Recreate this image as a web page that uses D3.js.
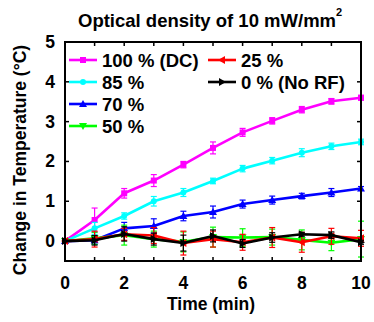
<!DOCTYPE html>
<html>
<head>
<meta charset="utf-8">
<script src="https://cdn.jsdelivr.net/npm/d3@7"></script>
<style>
  body { margin: 0; background: #fff; }
  text { font-family: "Liberation Sans", Arial, sans-serif; font-weight: bold; }
</style>
</head>
<body>
<script>
// time points (min)
var times = [0, 1, 2, 3, 4, 5, 6, 7, 8, 9, 10];

// mean temperature change for each duty cycle
var dc100 = [0, 0.53, 1.2, 1.52, 1.92, 2.34, 2.73, 3.02, 3.3, 3.51, 3.6];
var dc85  = [0, 0.32, 0.63, 1.0, 1.22, 1.51, 1.82, 2.02, 2.22, 2.38, 2.49];
var dc70  = [0, 0.02, 0.32, 0.38, 0.63, 0.73, 0.93, 1.03, 1.13, 1.22, 1.32];
var dc50  = [0, 0.07, 0.15, 0.05, -0.02, 0.1, 0.09, 0.1, 0.03, -0.04, 0.05];
var dc25  = [0, 0.05, 0.17, 0.14, -0.05, 0.05, -0.03, 0.09, -0.03, 0.12, 0.07];
var dc0   = [0, 0.02, 0.18, 0.05, -0.05, 0.13, -0.06, 0.09, 0.17, 0.15, -0.03];

// error bar half-widths
var err100 = [0, 0.3, 0.12, 0.15, 0.08, 0.15, 0.1, 0.08, 0.08, 0.07, 0.06];
var err85  = [0, 0.15, 0.08, 0.12, 0.1, 0.07, 0.08, 0.08, 0.1, 0.08, 0.07];
var err70  = [0, 0.1, 0.15, 0.18, 0.12, 0.15, 0.1, 0.1, 0.07, 0.1, 0.05];
var err50  = [0, 0.15, 0.25, 0.2, 0.25, 0.25, 0.22, 0.2, 0.25, 0.2, 0.45];
var err25  = [0, 0.2, 0.15, 0.2, 0.3, 0.2, 0.2, 0.25, 0.25, 0.2, 0.2];
var err0   = [0, 0.12, 0.18, 0.15, 0.2, 0.15, 0.1, 0.12, 0.05, 0.08, 0.05];

var seriesNames = ["100 % (DC)", "85 %", "70 %", "50 %", "25 %", "0 % (No RF)"];
var seriesColors = ["#ff00ff", "#00ffff", "#0000ff", "#00ff00", "#ff0000", "#000000"];
var seriesMarkers = ["square", "circle", "up", "down", "left", "right"];
var seriesValues = [dc100, dc85, dc70, dc50, dc25, dc0];
var seriesErrors = [err100, err85, err70, err50, err25, err0];

var xTicks = [0, 2, 4, 6, 8, 10];
var yTicks = [0, 1, 2, 3, 4, 5];

var width = 374, height = 322;
var margin = {left: 65, right: 13, top: 42, bottom: 61};

var svg = d3.select("body").append("svg")
    .attr("width", width)
    .attr("height", height);

var x = d3.scaleLinear().domain([0, 10]).range([margin.left, width - margin.right]);
var y = d3.scaleLinear().domain([-0.5, 5]).range([height - margin.bottom, margin.top]);

svg.append("defs").append("clipPath").attr("id", "plotclip")
  .append("rect")
    .attr("x", x(0) - 4).attr("y", y(5))
    .attr("width", x(10) - x(0) + 8).attr("height", y(-0.5) - y(5));

// draw a marker shape at 0,0
function marker(g, kind, color) {
    var s = 3;
    if (kind == "square") {
        g.append("rect").attr("x", -s).attr("y", -s).attr("width", 2 * s).attr("height", 2 * s).attr("fill", color);
    } else if (kind == "circle") {
        g.append("circle").attr("r", s).attr("fill", color);
    } else {
        var pts;
        if (kind == "up") pts = [[0, -s - 1], [s + 1, s], [-s - 1, s]];
        if (kind == "down") pts = [[0, s + 1], [s + 1, -s], [-s - 1, -s]];
        if (kind == "left") pts = [[-s - 1, 0], [s, -s - 1], [s, s + 1]];
        if (kind == "right") pts = [[s + 1, 0], [-s, -s - 1], [-s, s + 1]];
        g.append("polygon").attr("points", pts.map(function(p) { return p.join(","); }).join(" ")).attr("fill", color);
    }
}

var plot = svg.append("g").attr("clip-path", "url(#plotclip)");

var line = d3.line()
    .x(function(d) { return x(d[0]); })
    .y(function(d) { return y(d[1]); });

for (var i = 0; i < seriesValues.length; i = i + 1) {
    var pts = times.map(function(t, k) { return [t, seriesValues[i][k], seriesErrors[i][k]]; });
    var color = seriesColors[i];
    var g = plot.append("g");

    // error bars
    var eb = g.selectAll(".eb").data(pts.filter(function(d) { return d[2] > 0; })).enter().append("g");
    eb.append("line")
        .attr("x1", function(d) { return x(d[0]); })
        .attr("x2", function(d) { return x(d[0]); })
        .attr("y1", function(d) { return y(d[1] - d[2]); })
        .attr("y2", function(d) { return y(d[1] + d[2]); })
        .attr("stroke", color).attr("stroke-width", 1.2);
    [-1, 1].forEach(function(sgn) {
        eb.append("line")
            .attr("x1", function(d) { return x(d[0]) - 3; })
            .attr("x2", function(d) { return x(d[0]) + 3; })
            .attr("y1", function(d) { return y(d[1] + sgn * d[2]); })
            .attr("y2", function(d) { return y(d[1] + sgn * d[2]); })
            .attr("stroke", color).attr("stroke-width", 1.2);
    });

    g.append("path")
        .datum(pts)
        .attr("d", line)
        .attr("fill", "none")
        .attr("stroke", color)
        .attr("stroke-width", 2.6)
        .attr("stroke-linejoin", "round");

    pts.forEach(function(d) {
        var m = g.append("g").attr("transform", "translate(" + x(d[0]) + "," + y(d[1]) + ")");
        marker(m, seriesMarkers[i], color);
    });
}

// axis box
var axes = svg.append("g");
axes.append("rect")
    .attr("x", x(0)).attr("y", y(5))
    .attr("width", x(10) - x(0)).attr("height", y(-0.5) - y(5))
    .attr("fill", "none").attr("stroke", "#000").attr("stroke-width", 2);

// inward ticks on all sides
d3.range(0, 11).forEach(function(t) {
    axes.append("line").attr("x1", x(t)).attr("x2", x(t)).attr("y1", y(-0.5)).attr("y2", y(-0.5) - 4).attr("stroke", "#000").attr("stroke-width", 1.5);
    axes.append("line").attr("x1", x(t)).attr("x2", x(t)).attr("y1", y(5)).attr("y2", y(5) + 4).attr("stroke", "#000").attr("stroke-width", 1.5);
});
yTicks.forEach(function(t) {
    axes.append("line").attr("x1", x(0)).attr("x2", x(0) + 4).attr("y1", y(t)).attr("y2", y(t)).attr("stroke", "#000").attr("stroke-width", 1.5);
    axes.append("line").attr("x1", x(10)).attr("x2", x(10) - 4).attr("y1", y(t)).attr("y2", y(t)).attr("stroke", "#000").attr("stroke-width", 1.5);
});

// tick labels
axes.selectAll(".xl").data(xTicks).enter().append("text")
    .attr("x", function(d) { return x(d); })
    .attr("y", 289)
    .attr("text-anchor", "middle")
    .attr("font-size", 17.5)
    .text(function(d) { return d; });
axes.selectAll(".yl").data(yTicks).enter().append("text")
    .attr("x", 55)
    .attr("y", function(d) { return y(d) + 6; })
    .attr("text-anchor", "end")
    .attr("font-size", 17.5)
    .text(function(d) { return d; });

// axis titles
svg.append("text")
    .attr("x", 211).attr("y", 310)
    .attr("text-anchor", "middle")
    .attr("font-size", 17.5)
    .text("Time (min)");
svg.append("text")
    .attr("transform", "translate(26,160) rotate(-90)")
    .attr("text-anchor", "middle")
    .attr("font-size", 17.5)
    .text("Change in Temperature (\u00B0C)");

// title
var title = svg.append("text")
    .attr("x", 78).attr("y", 27)
    .attr("font-size", 18.5);
title.append("tspan").text("Optical density of 10 mW/mm");
title.append("tspan").attr("font-size", 11).attr("dy", -11).text("2");

// legend
var legendPos = [[69, 60], [69, 82], [69, 104], [69, 126], [208, 60], [208, 82]];
seriesNames.forEach(function(name, i) {
    var lg = svg.append("g").attr("transform", "translate(" + legendPos[i][0] + "," + legendPos[i][1] + ")");
    lg.append("line").attr("x1", 0).attr("x2", 28).attr("y1", 0).attr("y2", 0)
        .attr("stroke", seriesColors[i]).attr("stroke-width", 2.6);
    var m = lg.append("g").attr("transform", "translate(14,0)");
    marker(m, seriesMarkers[i], seriesColors[i]);
    lg.append("text").attr("x", 33).attr("y", 6.5).attr("font-size", 18.5).text(name);
});
</script>
</body>
</html>
